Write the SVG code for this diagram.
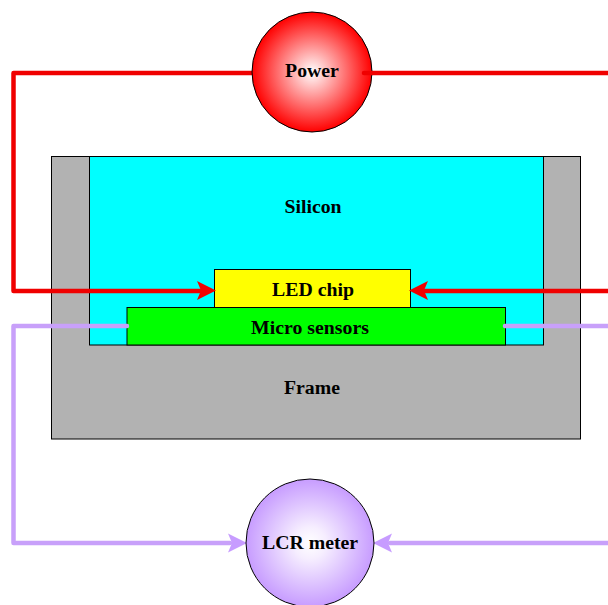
<svg xmlns="http://www.w3.org/2000/svg" width="608" height="605" viewBox="0 0 608 605">
<style>
.b{stroke:#000;stroke-width:1}
text{font-family:"Liberation Serif","Times New Roman",serif;font-weight:bold;font-size:19.8px;fill:#000;text-anchor:middle}
.w{fill:none;stroke-width:4.5;stroke-linejoin:round;stroke-linecap:round}
.r{stroke:#f00000}
.p{stroke:#c8a0fa}
</style>
<defs>
<radialGradient id="gr"><stop offset="0" stop-color="#fff"/><stop offset="1" stop-color="#f00"/></radialGradient>
<radialGradient id="gp"><stop offset="0" stop-color="#fff"/><stop offset="0.25" stop-color="#f6eeff"/><stop offset="1" stop-color="#c79cff"/></radialGradient>
</defs>
<rect width="608" height="605" fill="#fff"/>
<g id="frame"><rect class="b" x="51.500" y="156.500" width="529" height="282.500" fill="#b2b2b2"/><text x="312" y="394">Frame</text></g>
<g id="silicon"><rect class="b" x="89.500" y="156.500" width="454" height="188.500" fill="#0ff"/><text x="313" y="213">Silicon</text></g>
<g id="led-chip"><rect class="b" x="214.500" y="269.500" width="196" height="38" fill="#ff0"/><text x="313" y="296">LED chip</text></g>
<g id="micro-sensors"><rect class="b" x="127" y="307.500" width="378.500" height="37.500" fill="#0f0"/><text x="310" y="334">Micro sensors</text></g>
<g id="connectors">
<path class="w r" d="M252 73H13.500V291H200"/>
<path class="w r" d="M364 73H608M608 291H425"/>
<path class="w p" d="M127 326H13.500V543H230"/>
<path class="w p" d="M505 326H608M608 543H390"/>
<path fill="#f00000" d="M216 290.500L197 281L201 290.500L197 300Z"/>
<path fill="#f00000" d="M409 290.500L428 281L424 290.500L428 300Z"/>
<path fill="#c79cff" d="M247 543L228 533.500L232 543L228 552.500Z"/>
<path fill="#c79cff" d="M373 543L392 533.500L388 543L392 552.500Z"/>
</g>
<g id="power"><circle class="b" cx="312" cy="72" r="60" fill="url(#gr)"/><path d="M364 73H372" stroke="#f00000" stroke-width="4.500" stroke-linecap="round"/><text x="312" y="77">Power</text></g>
<g id="lcr-meter"><circle class="b" cx="310" cy="543" r="64" fill="url(#gp)"/><text x="310" y="549">LCR meter</text></g>
</svg>
